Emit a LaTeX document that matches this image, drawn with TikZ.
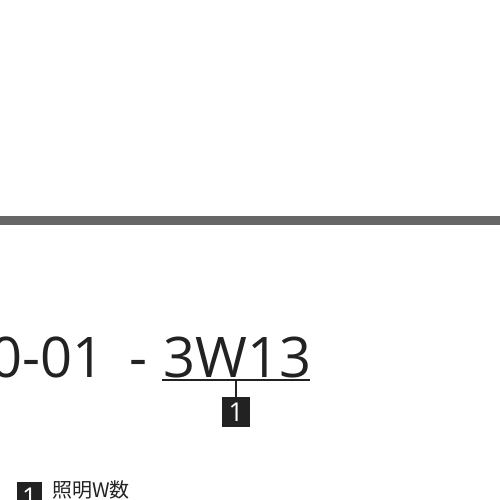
\documentclass[tikz,border=0pt]{standalone}
\usepackage{fontspec}
\setmainfont{Open Sans}
\newfontfamily\jpfont{Noto Sans CJK JP}
\usetikzlibrary{positioning}
\definecolor{cdBar}{HTML}{666666}
\definecolor{cdInk}{HTML}{222222}
\begin{document}
\begin{tikzpicture}[x=1pt,y=-1pt,code/.style={inner sep=0pt,text=cdInk,font=\fontsize{56}{60}\selectfont},tag/.style={fill=cdInk,text=white,inner sep=0pt,minimum width=28pt,minimum height=30pt,font=\fontsize{26}{28}\selectfont},uline/.style={draw=cdInk,line width=1.6pt}]
\useasboundingbox (0,0) rectangle (500,500);
\fill[cdBar] (0,216) rectangle (500,225);
\node[code,anchor=base west] (seg) at (163,377) {3W13};
\node[code,anchor=base east,xshift=-15pt] (pre) at (seg.base west) {40-01\hspace{25pt}-};
\coordinate (uL) at (162,380);
\coordinate (uR) at (310,380);
\coordinate (uM) at (236,380);
\draw[uline] (uL) -- (uR);
\node[tag] (tag) at (236,412) {1};
\draw[uline,line width=1.3pt] (uM) -- (tag.north);
\node[tag,minimum width=25pt] (key) at (29.5,497) {1};
\node[anchor=base west,inner sep=0pt,text=cdInk,font=\jpfont\fontsize{20}{22}\selectfont] (keytext) at (52,497) {照明W数};
\end{tikzpicture}
\end{document}
